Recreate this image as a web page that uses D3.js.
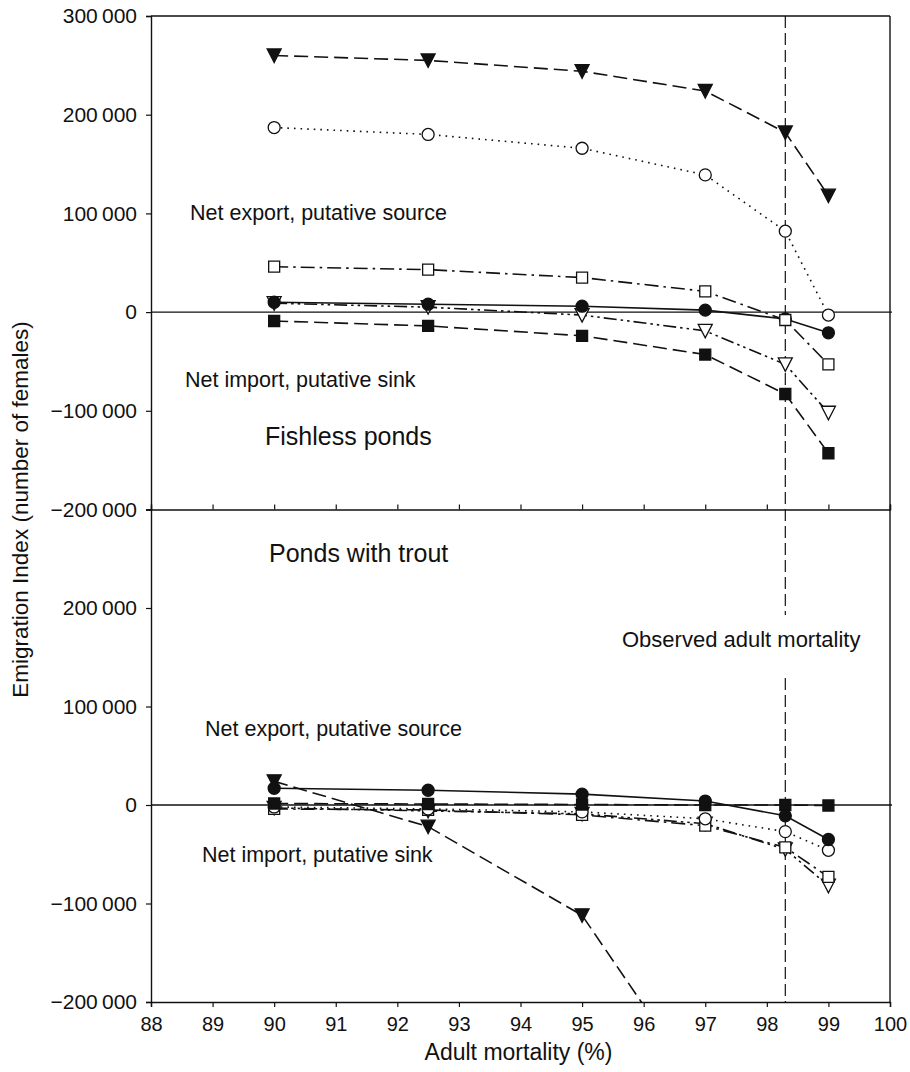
<!DOCTYPE html>
<html>
<head>
<meta charset="utf-8">
<script src="https://cdn.jsdelivr.net/npm/d3@7"></script>
<style>
  body { margin: 0; background: #fff; }
  text { font-family: "Liberation Sans", Arial, sans-serif; fill: #111; }
</style>
</head>
<body>
<div id="chart-area"></div>
<script>
// Adult mortality levels (%)
const mortality = [90, 92.5, 95, 97, 98.3, 99];
const observedMortality = 98.3;

// Fishless ponds
const fishTriFilled = [260000, 255000, 244000, 224000, 182000, 118000];
const fishCircleOpen = [187000, 180000, 166000, 139000, 82000, -3000];
const fishSquareOpen = [46000, 43000, 35000, 21000, -8000, -53000];
const fishCircleFilled = [10000, 8000, 6000, 2000, -7000, -21000];
const fishTriOpen = [9000, 5000, -3000, -19000, -53000, -102000];
const fishSquareFilled = [-9000, -14000, -24000, -43000, -83000, -143000];

// Ponds with trout (last triangle point lies below the panel)
const troutMortalityTri = [90, 92.5, 95, 97];
const troutTriFilled = [24000, -22000, -112000, -295000];
const troutCircleFilled = [17000, 15000, 11000, 4000, -11000, -35000];
const troutSquareFilled = [1500, 1000, 500, 0, 0, -500];
const troutCircleOpen = [-2000, -4000, -7000, -14000, -27000, -46000];
const troutSquareOpen = [-4000, -5000, -10000, -21000, -43000, -73000];
const troutTriOpen = [-3000, -6000, -9000, -19000, -45000, -82000];

// Axis ticks
const xTicks = d3.range(88, 101, 1);
const yTicksTop = [-200000, -100000, 0, 100000, 200000, 300000];
const yTicksBottom = [-200000, -100000, 0, 100000, 200000];

// Build Margin
const width = 910, height = 1072;
const left = 151, right = 890;
const topY = 16, midY = 509.5, bottomY = 1002;

const svg = d3.select('#chart-area')
    .append('svg')
    .attr('width', width)
    .attr('height', height);

// Scales
const x = d3.scaleLinear().domain([88, 100]).range([left, right]);
const yTop = d3.scaleLinear().domain([-200000, 300000]).range([midY, topY]);
const yBot = d3.scaleLinear().domain([-200000, 300000]).range([bottomY, midY]);

const loc = d3.formatLocale({ decimal: '.', thousands: '\u2009', grouping: [3], currency: ['', ''], minus: '\u2212' });
const fmt = loc.format(',');

// Line styles
const DASH = '14,6';
const DOT = '1.6,5';
const DASHDOT = '14,5,2.5,5';
const DASHDOTDOT = '13,4,2.5,4,2.5,4';

const panels = [
    {
        y: yTop, clip: 'clip-top',
        series: [
            { xs: mortality, ys: fishSquareFilled, mark: 'square', fill: true, dash: DASH },
            { xs: mortality, ys: fishTriOpen, mark: 'tri', fill: false, dash: DASHDOTDOT },
            { xs: mortality, ys: fishCircleFilled, mark: 'circle', fill: true, dash: null },
            { xs: mortality, ys: fishSquareOpen, mark: 'square', fill: false, dash: DASHDOT },
            { xs: mortality, ys: fishCircleOpen, mark: 'circle', fill: false, dash: DOT },
            { xs: mortality, ys: fishTriFilled, mark: 'tri', fill: true, dash: DASH }
        ]
    },
    {
        y: yBot, clip: 'clip-bottom',
        series: [
            { xs: mortality, ys: troutTriOpen, mark: 'tri', fill: false, dash: DASHDOTDOT },
            { xs: mortality, ys: troutSquareOpen, mark: 'square', fill: false, dash: DASHDOT },
            { xs: mortality, ys: troutCircleOpen, mark: 'circle', fill: false, dash: DOT },
            { xs: mortality, ys: troutSquareFilled, mark: 'square', fill: true, dash: DASH },
            { xs: mortality, ys: troutCircleFilled, mark: 'circle', fill: true, dash: null },
            { xs: troutMortalityTri, ys: troutTriFilled, mark: 'tri', fill: true, dash: DASH }
        ]
    }
];

// Clip paths
const defs = svg.append('defs');
defs.append('clipPath').attr('id', 'clip-top')
    .append('rect').attr('x', left).attr('y', topY).attr('width', right - left).attr('height', midY - topY);
defs.append('clipPath').attr('id', 'clip-bottom')
    .append('rect').attr('x', left).attr('y', midY).attr('width', right - left).attr('height', bottomY - midY);

// Zero lines
panels.forEach((p) => {
    svg.append('line')
        .attr('x1', left).attr('x2', right + 2)
        .attr('y1', p.y(0)).attr('y2', p.y(0))
        .attr('stroke', '#111').attr('stroke-width', 1.4);
});

// Observed adult mortality line (broken around its label)
[[topY, 615], [678, bottomY]].forEach((seg) => {
    svg.append('line')
        .attr('x1', x(observedMortality)).attr('x2', x(observedMortality))
        .attr('y1', seg[0]).attr('y2', seg[1])
        .attr('stroke', '#111').attr('stroke-width', 1.2)
        .attr('stroke-dasharray', '12,5');
});

// Marker shapes
const markPath = (type, cx, cy) => {
    if (type === 'tri') {
        return 'M' + (cx - 7) + ',' + (cy - 6.5) + 'L' + (cx + 7) + ',' + (cy - 6.5) + 'L' + cx + ',' + (cy + 7) + 'Z';
    }
    if (type === 'square') {
        return 'M' + (cx - 5.5) + ',' + (cy - 5.5) + 'h11v11h-11Z';
    }
    return 'M' + (cx + 6) + ',' + cy + 'A6,6 0 1,1 ' + (cx - 6) + ',' + cy + 'A6,6 0 1,1 ' + (cx + 6) + ',' + cy + 'Z';
};

// Series lines then markers
panels.forEach((p) => {
    const line = d3.line().x((d) => x(d[0])).y((d) => p.y(d[1]));
    const gLines = svg.append('g').attr('clip-path', 'url(#' + p.clip + ')');
    p.series.forEach((s) => {
        const pts = s.xs.map((v, i) => [v, s.ys[i]]);
        gLines.append('path')
            .attr('d', line(pts))
            .attr('fill', 'none')
            .attr('stroke', '#111')
            .attr('stroke-width', 1.6)
            .attr('stroke-dasharray', s.dash);
    });
    const gMarks = svg.append('g').attr('clip-path', 'url(#' + p.clip + ')');
    p.series.forEach((s) => {
        const pts = s.xs.map((v, i) => [v, s.ys[i]]);
        gMarks.selectAll(null)
            .data(pts)
            .enter()
            .append('path')
            .attr('d', (d) => markPath(s.mark, x(d[0]), p.y(d[1])))
            .attr('fill', s.fill ? '#111' : '#fff')
            .attr('stroke', '#111')
            .attr('stroke-width', 1.3);
    });
});

// Frame: top and right borders
svg.append('line').attr('x1', left).attr('x2', right).attr('y1', topY).attr('y2', topY)
    .attr('stroke', '#111').attr('stroke-width', 1.4);
svg.append('line').attr('x1', right).attr('x2', right).attr('y1', topY).attr('y2', bottomY)
    .attr('stroke', '#111').attr('stroke-width', 1.4);

// Middle boundary with inward ticks
const midAxis = svg.append('g')
    .attr('transform', 'translate(0,' + midY + ')')
    .call(d3.axisTop(x).tickValues(xTicks).tickSize(5).tickFormat(''));

// X Axis
const xAxis = svg.append('g')
    .attr('transform', 'translate(0,' + bottomY + ')')
    .call(d3.axisBottom(x).tickValues(xTicks).tickSize(5).tickPadding(10).tickFormat(d3.format('d')));
xAxis.selectAll('text').attr('font-size', '20px');

// Y Axes
const yAxisTop = svg.append('g')
    .attr('transform', 'translate(' + left + ',0)')
    .call(d3.axisLeft(yTop).tickValues(yTicksTop).tickSize(5).tickPadding(9).tickFormat(fmt));
const yAxisBot = svg.append('g')
    .attr('transform', 'translate(' + left + ',0)')
    .call(d3.axisLeft(yBot).tickValues(yTicksBottom).tickSize(5).tickPadding(9).tickFormat(fmt));

[midAxis, xAxis, yAxisTop, yAxisBot].forEach((a) => {
    a.select('.domain').attr('stroke', '#111').attr('stroke-width', 1.4);
    a.selectAll('.tick line').attr('stroke', '#111').attr('stroke-width', 1.2);
    a.selectAll('text').attr('fill', '#111').attr('font-family', '"Liberation Sans", Arial, sans-serif');
});
[yAxisTop, yAxisBot].forEach((a) => a.selectAll('text').attr('font-size', '21px'));

// Axis labels
svg.append('text')
    .attr('x', (left + right) / 2 - 2)
    .attr('y', 1060)
    .attr('font-size', '23px')
    .attr('text-anchor', 'middle')
    .text('Adult mortality (%)');

svg.append('text')
    .attr('transform', 'translate(28,' + midY + ') rotate(-90)')
    .attr('font-size', '22.5px')
    .attr('text-anchor', 'middle')
    .text('Emigration Index (number of females)');

// Annotations
const notes = [
    { x: 190, y: 220, size: 21.5, text: 'Net export, putative source' },
    { x: 185, y: 387, size: 21.5, text: 'Net import, putative sink' },
    { x: 265, y: 445, size: 25, text: 'Fishless ponds' },
    { x: 269, y: 562, size: 25, text: 'Ponds with trout' },
    { x: 622, y: 647, size: 22, text: 'Observed adult mortality' },
    { x: 205, y: 736, size: 21.5, text: 'Net export, putative source' },
    { x: 202, y: 862, size: 21.5, text: 'Net import, putative sink' }
];
svg.selectAll('.note')
    .data(notes)
    .enter()
    .append('text')
    .attr('class', 'note')
    .attr('x', (d) => d.x)
    .attr('y', (d) => d.y)
    .attr('font-size', (d) => d.size + 'px')
    .text((d) => d.text);
</script>
</body>
</html>
